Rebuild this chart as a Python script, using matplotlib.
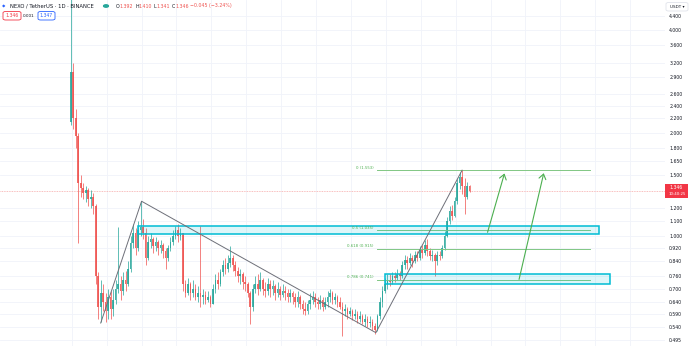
import numpy as np
import matplotlib
matplotlib.use("Agg")
import matplotlib.pyplot as plt
from matplotlib.ticker import NullLocator, FixedLocator, FixedFormatter
from matplotlib.patches import Rectangle, FancyBboxPatch, Circle

# ---------------- data (daily candles, NEXO/USDT) ----------------
close = [3.0, 2.2, 1.95, 1.42, 1.38, 1.33, 1.36, 1.28, 1.30, 1.22,
         0.76, 0.62, 0.68, 0.64, 0.60, 0.66, 0.61, 0.65, 0.70, 0.72,
         0.69, 0.74, 0.72, 0.80, 0.95, 1.02, 0.92, 1.04, 1.06, 1.02,
         0.86, 0.96, 0.98, 0.93, 0.96, 0.92, 0.94, 0.90, 0.86, 0.92,
         0.96, 1.00, 1.04, 1.00, 1.02, 0.72, 0.68, 0.72, 0.68, 0.70,
         0.66, 0.68, 0.66, 0.67, 0.65, 0.66, 0.63, 0.70, 0.74, 0.72,
         0.78, 0.82, 0.80, 0.83, 0.86, 0.82, 0.79, 0.76, 0.77, 0.73,
         0.72, 0.68, 0.62, 0.70, 0.72, 0.70, 0.74, 0.70, 0.69, 0.72,
         0.70, 0.71, 0.68, 0.70, 0.67, 0.69, 0.68, 0.66, 0.68, 0.66,
         0.64, 0.66, 0.63, 0.61, 0.60, 0.63, 0.65, 0.66, 0.64, 0.63,
         0.65, 0.62, 0.64, 0.66, 0.68, 0.65, 0.66, 0.64, 0.62, 0.60,
         0.61, 0.59, 0.60, 0.58, 0.59, 0.57, 0.58, 0.56, 0.57, 0.555,
         0.56, 0.545, 0.53, 0.58, 0.64, 0.69, 0.72, 0.74, 0.73, 0.76,
         0.75, 0.77, 0.76, 0.82, 0.85, 0.83, 0.86, 0.84, 0.88, 0.86,
         0.91, 0.89, 0.94, 0.90, 0.87, 0.88, 0.84, 0.88, 0.87, 0.92,
         1.00, 1.10, 1.18, 1.14, 1.26, 1.42, 1.48, 1.40, 1.30, 1.392,
         1.346]
high = [6.5, 3.2, 2.35, 2.0, 1.50, 1.42, 1.40, 1.38, 1.36, 1.33,
        1.24, 0.78, 0.74, 0.72, 0.68, 0.70, 0.69, 0.70, 0.74, 1.06,
        0.76, 0.78, 0.79, 0.84, 1.00, 1.08, 1.05, 1.10, 1.26, 1.12,
        1.05, 1.00, 1.02, 0.99, 0.99, 0.97, 0.97, 0.95, 0.92, 0.94,
        0.99, 1.04, 1.07, 1.08, 1.05, 1.02, 0.74, 0.75, 0.73, 0.74,
        0.72, 0.71, 1.07, 0.70, 0.69, 0.69, 0.67, 0.72, 0.77, 0.78,
        0.80, 0.85, 0.86, 0.88, 0.93, 0.88, 0.84, 0.81, 0.80, 0.78,
        0.76, 0.73, 0.69, 0.72, 0.76, 0.77, 0.78, 0.75, 0.73, 0.75,
        0.74, 0.74, 0.72, 0.73, 0.71, 0.72, 0.71, 0.70, 0.70, 0.69,
        0.68, 0.69, 0.67, 0.65, 0.64, 0.65, 0.68, 0.69, 0.68, 0.66,
        0.67, 0.66, 0.66, 0.69, 0.70, 0.69, 0.68, 0.67, 0.66, 0.64,
        0.63, 0.62, 0.62, 0.61, 0.61, 0.60, 0.60, 0.59, 0.59, 0.58,
        0.58, 0.57, 0.555, 0.59, 0.66, 0.71, 0.75, 0.77, 0.77, 0.78,
        0.78, 0.80, 0.79, 0.84, 0.88, 0.87, 0.89, 0.88, 0.90, 0.90,
        0.93, 0.94, 0.97, 0.98, 0.92, 0.91, 0.89, 0.90, 0.90, 0.94,
        1.03, 1.13, 1.22, 1.23, 1.30, 1.46, 1.53, 1.553, 1.47, 1.43,
        1.410]
low = [2.10, 2.05, 1.80, 0.95, 1.30, 1.28, 1.25, 1.22, 1.20, 1.16,
       0.72, 0.57, 0.56, 0.60, 0.56, 0.57, 0.57, 0.58, 0.63, 0.68,
       0.65, 0.67, 0.69, 0.71, 0.78, 0.92, 0.88, 0.90, 1.00, 0.98,
       0.82, 0.85, 0.92, 0.89, 0.90, 0.88, 0.89, 0.86, 0.80, 0.84,
       0.90, 0.94, 0.98, 0.96, 0.97, 0.69, 0.66, 0.67, 0.65, 0.66,
       0.65, 0.64, 0.62, 0.63, 0.63, 0.64, 0.62, 0.63, 0.68, 0.70,
       0.71, 0.76, 0.77, 0.78, 0.81, 0.79, 0.76, 0.73, 0.72, 0.70,
       0.69, 0.66, 0.55, 0.60, 0.68, 0.67, 0.69, 0.67, 0.66, 0.67,
       0.66, 0.67, 0.65, 0.66, 0.65, 0.66, 0.65, 0.64, 0.64, 0.63,
       0.62, 0.62, 0.61, 0.59, 0.585, 0.59, 0.61, 0.63, 0.62, 0.61,
       0.61, 0.60, 0.61, 0.62, 0.64, 0.63, 0.63, 0.62, 0.61, 0.51,
       0.58, 0.57, 0.58, 0.565, 0.57, 0.555, 0.56, 0.55, 0.545, 0.54,
       0.54, 0.53, 0.517, 0.525, 0.57, 0.62, 0.68, 0.70, 0.71, 0.72,
       0.73, 0.74, 0.74, 0.75, 0.80, 0.80, 0.82, 0.81, 0.83, 0.84,
       0.85, 0.86, 0.88, 0.87, 0.85, 0.84, 0.76, 0.82, 0.85, 0.86,
       0.91, 0.99, 1.08, 1.11, 1.13, 1.24, 1.37, 1.32, 1.16, 1.28,
       1.341]
first_open = 2.15
last_open = 1.392

price_ticks = [4.4, 4.0, 3.6, 3.2, 2.9, 2.6, 2.4, 2.2, 2.0, 1.8, 1.65, 1.5,
               1.2, 1.1, 1.0, 0.92, 0.84, 0.76, 0.70, 0.64, 0.59, 0.54, 0.495]
price_labels = ["4.400", "4.000", "3.600", "3.200", "2.900", "2.600", "2.400",
                "2.200", "2.000", "1.800", "1.650", "1.500", "1.200", "1.100",
                "1.000", "0.920", "0.840", "0.760", "0.700", "0.640", "0.590",
                "0.540", "0.495"]

# drawings (bar index, price)
trend_x = [12, 28.4, 122.4, 157]
trend_y = [0.555, 1.26, 0.52, 1.553]
fib_levels = ["0", "0.5", "0.618", "0.786"]
fib_prices = [1.553, 1.035, 0.915, 0.741]
fib_x = [122.8, 208.4]
box1_x = [26.8, 212.0]
box1_y = [1.011, 1.067]
box2_x = [125.9, 216.3]
box2_y = [0.720, 0.770]
arrow1_x = [166.9, 174.3]
arrow1_y = [1.004, 1.547]
arrow2_x = [179.6, 190.0]
arrow2_y = [0.731, 1.55]
last_price = 1.346

ohlc_labels = ["O", "H", "L", "C"]
ohlc_values = ["1.392", "1.410", "1.341", "1.346"]
change_text = "\u22120.045 (\u22123.24%)"

# ---------------- figure ----------------
W, H = 690, 346
fig = plt.figure(figsize=(W / 100, H / 100), dpi=100)
fig.patch.set_facecolor("white")
pane_w = 665
ax = fig.add_axes([0, 0, pane_w / W, 1])
ax.set_facecolor("white")

opens = [first_open] + close[:-1]
opens[-1] = last_open
n = len(close)
idx = np.arange(n)
UP, DN = "#26a69a", "#ef5350"
cols = [UP if c >= o else DN for o, c in zip(opens, close)]

ax.vlines(idx, low, high, colors=cols, lw=0.6, alpha=0.85, zorder=3)
bottoms = [min(o, c) for o, c in zip(opens, close)]
tops = [max(o, c) for o, c in zip(opens, close)]
heights = [max(t - b, 0.003) for t, b in zip(tops, bottoms)]
ax.bar(idx, heights, bottom=bottoms, width=0.65, color=cols, alpha=0.85,
       linewidth=0, zorder=3)

ax.set_yscale("log")
ax.set_ylim(0.4754, 4.885)
ax.set_xlim(-28.4, (pane_w - 71) / 2.5)

ax.yaxis.set_major_locator(FixedLocator(price_ticks))
ax.yaxis.set_major_formatter(FixedFormatter(price_labels))
ax.yaxis.set_minor_locator(NullLocator())
ax.yaxis.tick_right()
ax.tick_params(axis="y", length=0, pad=3, labelsize=3.3, labelcolor="#131722")
ax.set_xticks(np.arange(0.4, 240, 14))
ax.tick_params(axis="x", length=0, labelbottom=False)
ax.grid(True, color="#f0f3fa", lw=0.6, zorder=0)
for s in ax.spines.values():
    s.set_visible(False)

# last price line
ax.axhline(last_price, color="#f7a9a7", lw=0.6, ls=(0, (1, 1)), zorder=2)

# trendlines
ax.plot(trend_x, trend_y, color="#6d6f78", lw=0.7, zorder=5)

# fib retracement
for lv, fp in zip(fib_levels, fib_prices):
    ax.plot(fib_x, [fp, fp], color="#81c784", lw=0.7, zorder=4)
    ax.text(fib_x[0] - 1.3, fp * 1.004, f"{lv} ({fp:.3f})", color="#4caf50",
            fontsize=2.8, ha="right", va="bottom", zorder=6)

# boxes
for bx, by in ((box1_x, box1_y), (box2_x, box2_y)):
    ax.add_patch(Rectangle((bx[0], by[0]), bx[1] - bx[0], by[1] - by[0],
                           facecolor=(0.0, 0.737, 0.831, 0.13),
                           edgecolor="#00bcd4", lw=1.1, zorder=4))

# arrows
for axx, ayy in ((arrow1_x, arrow1_y), (arrow2_x, arrow2_y)):
    ax.annotate("", xy=(axx[1], ayy[1]), xytext=(axx[0], ayy[0]),
                arrowprops=dict(arrowstyle="->,head_length=0.35,head_width=0.25",
                                color="#4caf50", lw=0.8), zorder=6)

# ---------------- header ----------------
def fx(x):
    return x / W

def fy(y):
    return 1 - y / H

renderer = fig.canvas.get_renderer()

def put(x, y, text, color, fs=3.5):
    t = fig.text(fx(x), fy(y), text, color=color, fontsize=fs, va="center", ha="left")
    bb = t.get_window_extent(renderer=renderer)
    return x + bb.width

fig.text(fx(2), fy(6), "\u25C6", color="#2962ff", fontsize=3.2, va="center", ha="left")
put(10, 6, "NEXO / TetherUS \u00b7 1D \u00b7 BINANCE", "#131722", fs=3.8)
fig.patches.append(Circle((fx(106), fy(6)), 0.0035, transform=fig.transFigure,
                          color="#26a69a", zorder=5))
xc = 116
for lab, val in zip(ohlc_labels, ohlc_values):
    xc = put(xc, 6, lab, "#131722", fs=3.4) + 0.2
    xc = put(xc, 6, val, DN, fs=3.4) + 1.6
put(xc, 6, change_text, DN, fs=3.4)

# small boxes (row 2)
def boxed(x0, x1, y0, y1, text, ec, tc, fs=3.3):
    fig.patches.append(FancyBboxPatch((fx(x0), fy(y1)), fx(x1 - x0), (y1 - y0) / H,
                       boxstyle="round,pad=0,rounding_size=0.004",
                       transform=fig.transFigure, facecolor="white",
                       edgecolor=ec, lw=0.6))
    fig.text(fx((x0 + x1) / 2), fy((y0 + y1) / 2), text, color=tc,
             fontsize=fs, ha="center", va="center")

boxed(3, 21, 11.5, 20, "1.346", "#f23645", "#f23645")
fig.text(fx(29), fy(15.8), "0.001", color="#131722", fontsize=3.0, ha="center", va="center")
boxed(38, 55, 11.5, 20, "1.347", "#2962ff", "#2962ff")

# USDT selector
boxed(666, 688, 2.5, 11, "USDT \u25be", "#e0e3eb", "#131722", fs=3.0)

# current price label
fig.patches.append(Rectangle((fx(665), fy(198)), fx(23), 14 / H,
                   transform=fig.transFigure, facecolor="#f23645", lw=0))
fig.text(fx(669), fy(188), "1.346", color="white", fontsize=3.3, ha="left", va="center")
fig.text(fx(669), fy(194), "10:40:25", color="white", fontsize=2.8, ha="left", va="center")

fig.savefig("out.png", dpi=100, facecolor="white")
